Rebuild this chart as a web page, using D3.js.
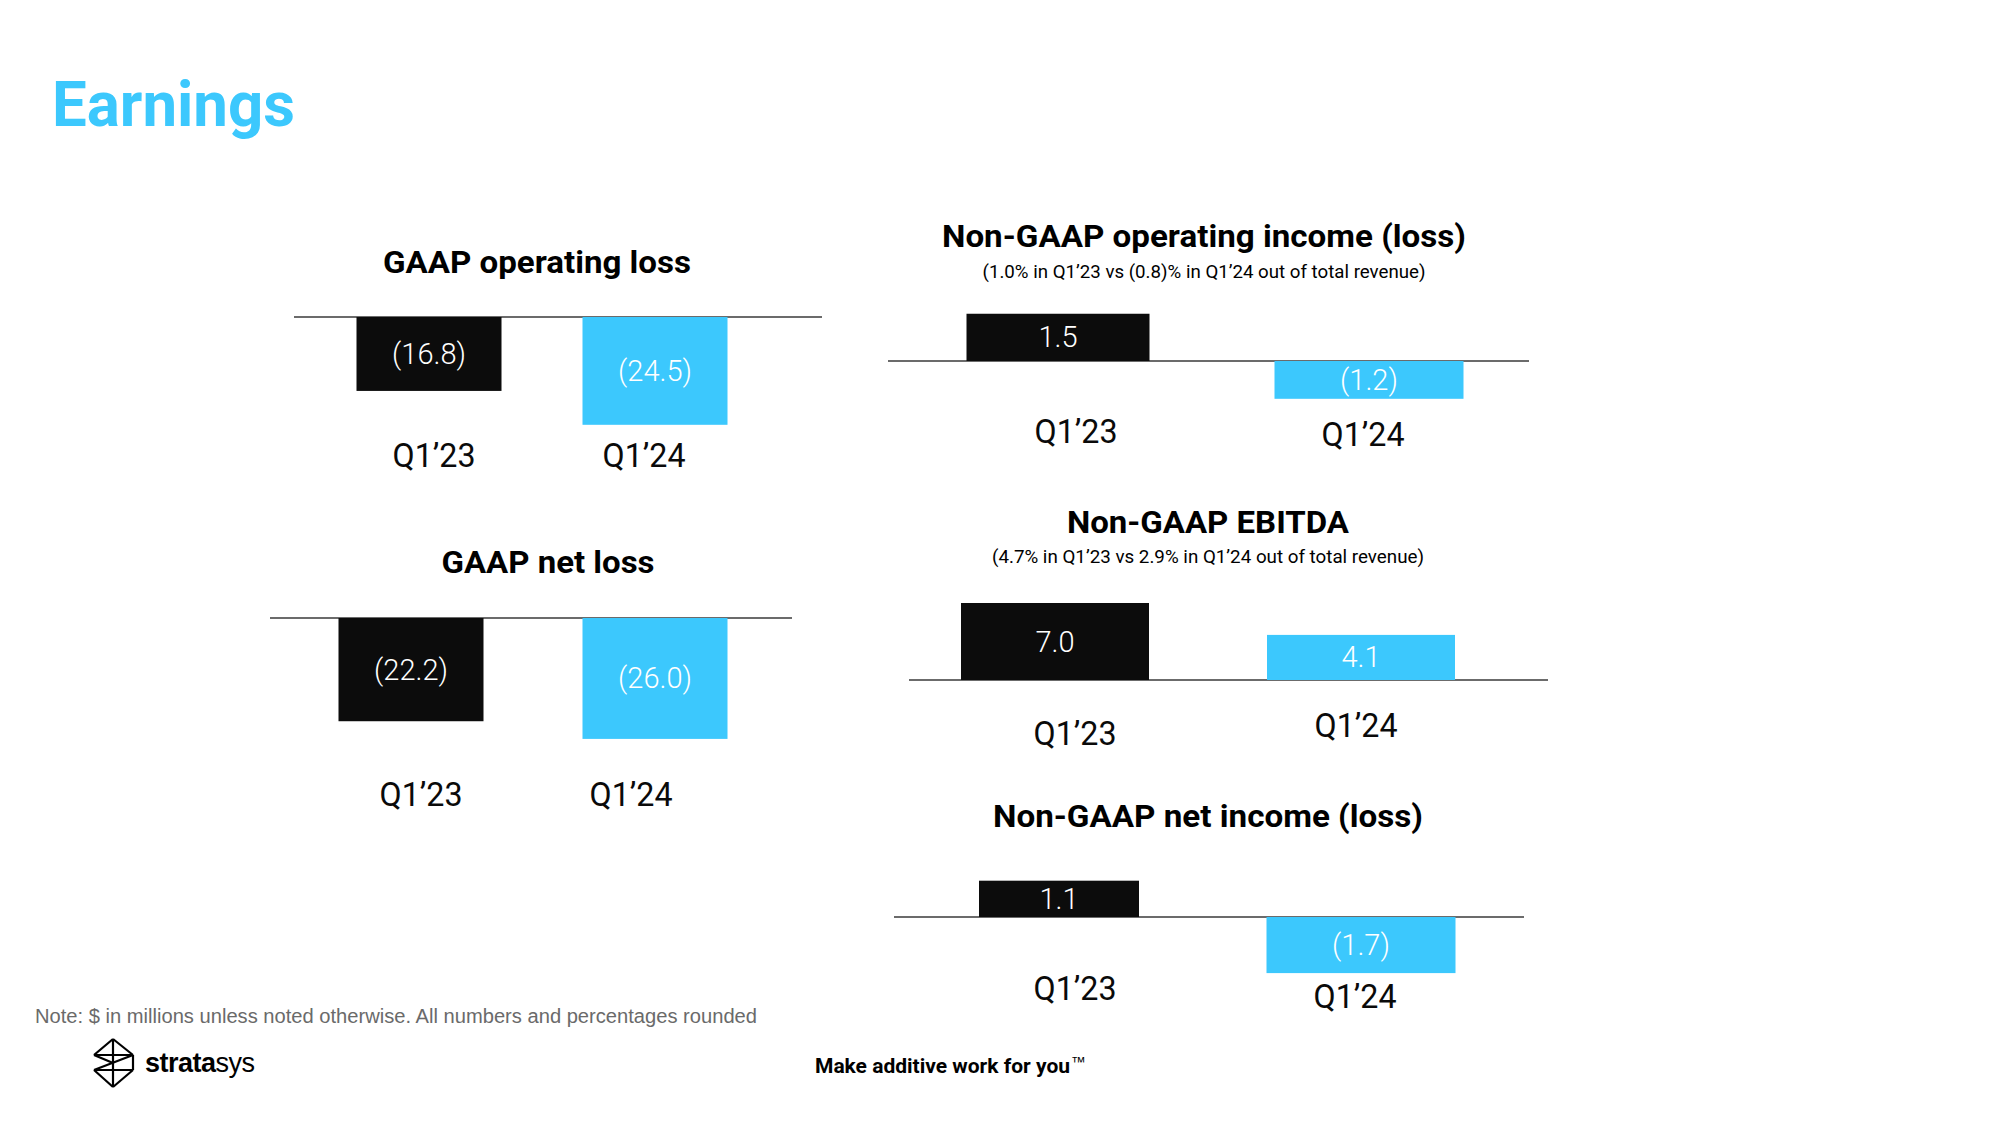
<!DOCTYPE html>
<html>
<head>
<meta charset="utf-8">
<script src="https://d3js.org/d3.v7.min.js"></script>
<style>
  body { margin: 0; background: #fff; }
  text { font-family: Roboto, "Open Sans", sans-serif; }
</style>
</head>
<body>
<div id="visual1"></div>
<script>

// ---- data ----
var quarters = ["Q1’23", "Q1’24"];
var gaapOpLoss = [-16.8, -24.5];
var gaapNetLoss = [-22.2, -26.0];
var nonGaapOpIncome = [1.5, -1.2];
var nonGaapEbitda = [7.0, 4.1];
var nonGaapNetIncome = [1.1, -1.7];

var panelTitles = ["GAAP operating loss", "GAAP net loss", "Non-GAAP operating income (loss)",
                   "Non-GAAP EBITDA", "Non-GAAP net income (loss)"];
var panelSubtitles = [null, null,
  "(1.0% in Q1’23 vs (0.8)% in Q1’24 out of total revenue)",
  "(4.7% in Q1’23 vs 2.9% in Q1’24 out of total revenue)",
  null];

var barColors = ["#0c0c0c", "#3cc8fd"];
var blue = "#3cc8fd";

var width = 2000, height = 1125;

var svg = d3.select("#visual1")
  .append("svg")
    .attr("width", width)
    .attr("height", height);

svg.append("text")
  .attr("x", 52)
  .attr("y", 126)
  .attr("fill", blue)
  .style("font-size", "63px")
  .style("font-weight", 700)
  .attr("textLength", 243)
  .attr("lengthAdjust", "spacingAndGlyphs")
  .text("Earnings");

// layout of each small chart (pixels)
var panels = [
  { values: gaapOpLoss, titleX: 537, titleY: 273, titleW: 308,
    axis: [294, 822], axisY: 317, k: 4.4,
    barCenters: [429, 655], barW: [145, 145], catCenters: [434, 644], catY: [467, 467] },
  { values: gaapNetLoss, titleX: 548, titleY: 573, titleW: 213,
    axis: [270, 792], axisY: 618, k: 4.65,
    barCenters: [411, 655], barW: [145, 145], catCenters: [421, 631], catY: [806, 806] },
  { values: nonGaapOpIncome, titleX: 1204, titleY: 247, titleW: 524, subY: 278, subW: 443,
    axis: [888, 1529], axisY: 361, k: 31.5,
    barCenters: [1058, 1369], barW: [183, 189], catCenters: [1076, 1363], catY: [443, 446] },
  { values: nonGaapEbitda, titleX: 1208, titleY: 533, titleW: 282, subY: 563, subW: 432,
    axis: [909, 1548], axisY: 680, k: 11.0,
    barCenters: [1055, 1361], barW: [188, 188], catCenters: [1075, 1356], catY: [745, 737] },
  { values: nonGaapNetIncome, titleX: 1208, titleY: 827, titleW: 430,
    axis: [894, 1524], axisY: 917, k: 33,
    barCenters: [1059, 1361], barW: [160, 189], catCenters: [1075, 1355], catY: [1000, 1008] }
];

var fmt = d3.format(".1f");
function label(v) { return v < 0 ? "(" + fmt(-v) + ")" : fmt(v); }

panels.forEach(function(p, i) {
  var g = svg.append("g");

  var x = d3.scalePoint().domain(quarters).range(p.barCenters);
  var xl = d3.scalePoint().domain(quarters).range(p.catCenters);
  var y = d3.scaleLinear().domain([0, 10]).range([p.axisY, p.axisY - 10 * p.k]);

  g.append("text")
    .attr("x", p.titleX)
    .attr("y", p.titleY)
    .attr("text-anchor", "middle")
    .attr("fill", "#000")
    .style("font-size", "31px")
    .style("font-weight", 700)
    .attr("textLength", p.titleW)
    .attr("lengthAdjust", "spacingAndGlyphs")
    .text(panelTitles[i]);

  if (panelSubtitles[i]) {
    g.append("text")
      .attr("x", p.titleX)
      .attr("y", p.subY)
      .attr("text-anchor", "middle")
      .attr("fill", "#000")
      .style("font-size", "18px")
      .attr("textLength", p.subW)
      .attr("lengthAdjust", "spacingAndGlyphs")
      .text(panelSubtitles[i]);
  }

  g.append("line")
    .attr("x1", p.axis[0])
    .attr("x2", p.axis[1])
    .attr("y1", y(0))
    .attr("y2", y(0))
    .attr("stroke", "#3a3a3a")
    .attr("stroke-width", 1.5);

  var data = quarters.map(function(q, j) { return { q: q, v: p.values[j], j: j }; });

  g.selectAll("rect")
    .data(data)
    .enter()
    .append("rect")
      .attr("x", function(d) { return x(d.q) - p.barW[d.j] / 2; })
      .attr("y", function(d) { return Math.min(y(d.v), y(0)); })
      .attr("width", function(d) { return p.barW[d.j]; })
      .attr("height", function(d) { return Math.abs(y(d.v) - y(0)); })
      .attr("fill", function(d) { return barColors[d.j]; });

  g.selectAll(".val")
    .data(data)
    .enter()
    .append("text")
      .attr("class", "val")
      .attr("x", function(d) { return x(d.q); })
      .attr("y", function(d) { return (y(d.v) + y(0)) / 2 + 10; })
      .attr("text-anchor", "middle")
      .attr("fill", "#fff")
      .style("font-size", "29px")
      .style("font-weight", 300)
      .text(function(d) { return label(d.v); });

  g.selectAll(".cat")
    .data(data)
    .enter()
    .append("text")
      .attr("class", "cat")
      .attr("x", function(d) { return xl(d.q); })
      .attr("y", function(d) { return p.catY[d.j]; })
      .attr("text-anchor", "middle")
      .attr("fill", "#0a0a0a")
      .style("font-size", "33px")
      .attr("textLength", 83)
      .attr("lengthAdjust", "spacingAndGlyphs")
      .text(function(d) { return d.q; });
});

// footer
svg.append("text")
  .attr("x", 35)
  .attr("y", 1023)
  .attr("fill", "#6a6a6a")
  .style("font-family", "'Liberation Sans', Arial, sans-serif")
  .style("font-size", "20px")
  .attr("textLength", 722)
  .attr("lengthAdjust", "spacingAndGlyphs")
  .text("Note: $ in millions unless noted otherwise. All numbers and percentages rounded");

// logo mark
var logo = svg.append("g")
  .attr("fill", "none")
  .attr("stroke", "#000")
  .attr("stroke-width", 2.2)
  .attr("stroke-linejoin", "miter");
var T = [113, 1039], UL = [94, 1055], UR = [133, 1055], LL = [94, 1070], LR = [133, 1070], B = [113, 1087];
[[T, UL], [T, UR], [UL, UR], [UR, LL], [UL, [113, 1063]], [LL, LR], [LL, B], [LR, B], [T, B], [UR, LR]]
  .forEach(function(s) {
    logo.append("line")
      .attr("x1", s[0][0]).attr("y1", s[0][1])
      .attr("x2", s[1][0]).attr("y2", s[1][1]);
  });

var brand = svg.append("text")
  .attr("x", 145)
  .attr("y", 1072)
  .attr("fill", "#000")
  .style("font-family", "'Liberation Sans', Arial, sans-serif")
  .style("font-size", "27px")
  .style("letter-spacing", "-0.5px");
brand.append("tspan").style("font-weight", 700).text("strata");
brand.append("tspan").style("font-weight", 400).text("sys");

svg.append("text")
  .attr("x", 815)
  .attr("y", 1073)
  .attr("fill", "#000")
  .style("font-size", "20px")
  .style("font-weight", 700)
  .attr("textLength", 255)
  .attr("lengthAdjust", "spacingAndGlyphs")
  .text("Make additive work for you");
svg.append("text")
  .attr("x", 1071)
  .attr("y", 1067)
  .attr("fill", "#000")
  .style("font-family", "'Liberation Sans', Arial, sans-serif")
  .style("font-size", "15px")
  .text("™");

</script>
</body>
</html>
